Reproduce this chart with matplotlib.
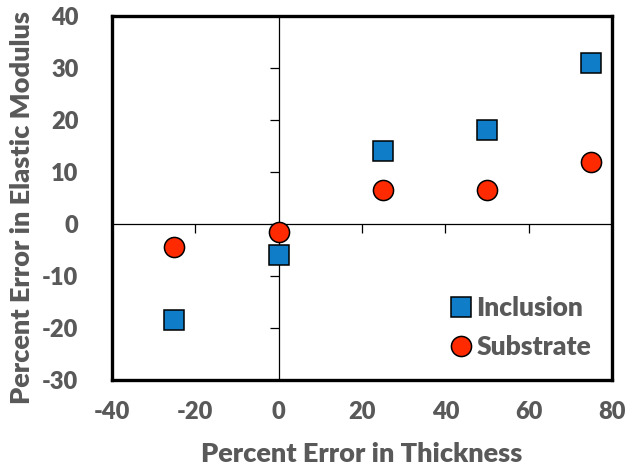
import matplotlib.pyplot as plt

# значения
thickness_err = [-25, 0, 25, 50, 75]
inclusion_err = [-18.5, -6, 14, 18, 31]
substrate_err = [-4.5, -1.5, 6.5, 6.5, 12]

x_ticks = [-40, -20, 0, 20, 40, 60, 80]
y_ticks = [-30, -20, -10, 0, 10, 20, 30, 40]

gray = '#595959'
plt.rcParams['font.family'] = ['Lato', 'DejaVu Sans']
plt.rcParams['font.weight'] = 'heavy'
plt.rcParams['axes.unicode_minus'] = False

fig = plt.figure(figsize=(6.28, 4.71), dpi=100)
rect = [0.178, 0.193, 0.797, 0.773]

# оси с рамкой и подписями
ax = fig.add_axes(rect)
ax.set_xlim(-40, 80)
ax.set_ylim(-30, 40)
ax.set_xticks(x_ticks)
ax.set_yticks(y_ticks)
ax.tick_params(axis='x', length=0, labelsize=17, labelcolor=gray, pad=15)
ax.tick_params(axis='y', length=0, labelsize=17, labelcolor=gray, pad=24)
for s in ax.spines.values():
    s.set_linewidth(2.4)
ax.set_xlabel('Percent Error in Thickness', fontsize=19.5, color=gray,
              fontweight='heavy', labelpad=14)
ax.set_ylabel('Percent Error in Elastic Modulus', fontsize=19.5, color=gray,
              fontweight='heavy', labelpad=4)
ax.yaxis.set_label_coords(-0.155, 0.475)

# оси через ноль с засечками
ax0 = fig.add_axes(rect, sharex=ax, sharey=ax)
ax0.patch.set_visible(False)
ax0.spines['left'].set_position('zero')
ax0.spines['bottom'].set_position('zero')
ax0.spines['right'].set_visible(False)
ax0.spines['top'].set_visible(False)
for k in ('left', 'bottom'):
    ax0.spines[k].set_linewidth(0.9)
ax0.tick_params(length=6.5, width=0.9, direction='out',
                labelleft=False, labelbottom=False)

ax0.plot(thickness_err, inclusion_err, 's', color='#0f7dc8',
         markeredgecolor='black', markeredgewidth=1.1, markersize=14,
         label='Inclusion', zorder=3)
ax0.plot(thickness_err, substrate_err, 'o', color='#ff2a00',
         markeredgecolor='black', markeredgewidth=1.1, markersize=14.5,
         label='Substrate', zorder=3)

leg = ax0.legend(loc='lower right', frameon=False, fontsize=19,
                 handletextpad=0.0, handlelength=1.2, labelspacing=0.55,
                 borderaxespad=0.5, borderpad=0.3)
for t in leg.get_texts():
    t.set_color(gray)

fig.savefig('out.png', dpi=100)
